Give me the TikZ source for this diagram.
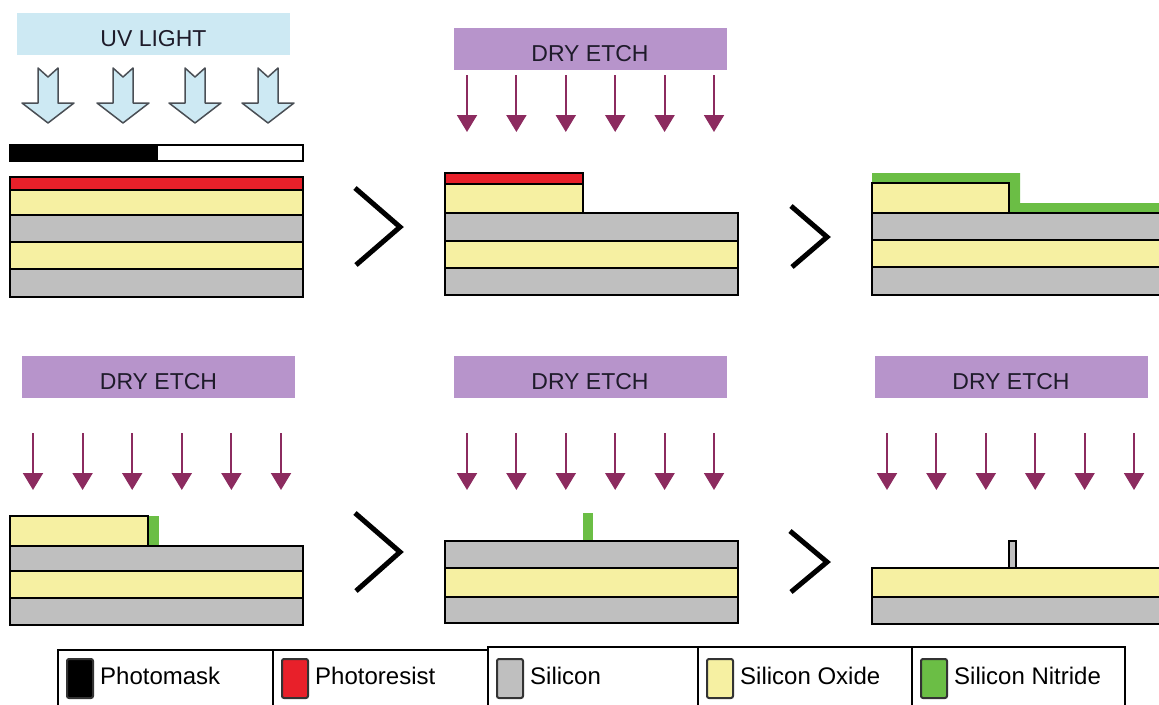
\documentclass[tikz,border=0pt]{standalone}
\usepackage{fontspec}
\setmainfont{Liberation Sans}
\usetikzlibrary{arrows.meta}

\definecolor{uvblue}{HTML}{CDE9F3}
\definecolor{uvedge}{HTML}{4A4F55}
\definecolor{etchpurple}{HTML}{B794CB}
\definecolor{etcharrow}{HTML}{8C2B5F}
\definecolor{textdark}{HTML}{1E1B2A}
\definecolor{resist}{HTML}{E8202A}
\definecolor{oxide}{HTML}{F6F0A2}
\definecolor{silicon}{HTML}{BFBFBF}
\definecolor{nitride}{HTML}{6BBE45}
\definecolor{swatchedge}{HTML}{333333}

\begin{document}
\begin{tikzpicture}[
    x=1pt, y=-1pt,
    font=\fontsize{23}{27}\selectfont,
    bar/.style={
        fill=etchpurple,
        text=textdark,
        minimum width=273pt,
        minimum height=42pt,
        inner sep=0pt,
        text height=24pt,
        text depth=0pt
    },
    uvbar/.style={bar, fill=uvblue},
    layer/.style={draw=black, line width=2pt},
    si/.style={layer, fill=silicon},
    ox/.style={layer, fill=oxide},
    pr/.style={layer, fill=resist},
    etch/.style={
        draw=etcharrow,
        line width=2pt,
        -{Triangle[width=20pt,length=17pt]}
    },
    uvarrow/.style={draw=uvedge, fill=uvblue, line width=1.5pt, line join=round},
    chevron/.style={draw=black, line width=5pt},
    legendbox/.style={draw=black, line width=1.5pt},
    swatch/.style={draw=swatchedge, line width=2pt, rounded corners=2pt},
    keytext/.style={font=\fontsize{24}{28}\selectfont, text=black, inner sep=0pt, anchor=base west}
]
\useasboundingbox (0,0) rectangle (1159,704);

% Step 1: exposure
\node[uvbar] (uv) at (153.5,34) {UV LIGHT};
\foreach \x in {48,123,195,268}
    \draw[uvarrow] (\x-10,68) -- (\x,77) -- (\x+10,68) -- (\x+10,103) -- (\x+26,103)
        -- (\x,123) -- (\x-26,103) -- (\x-10,103) -- cycle;
\draw[layer, fill=white] (10,145) rectangle (303,161);
\fill[black] (10,145) rectangle (158,161);
\draw[layer] (10,145) rectangle (303,161);
\draw[pr] (10,177) rectangle (303,190);
\draw[ox] (10,190) rectangle (303,215);
\draw[si] (10,215) rectangle (303,242);
\draw[ox] (10,242) rectangle (303,269);
\draw[si] (10,269) rectangle (303,297);

% Step 2: first dry etch
\node[bar] (etchA) at (590,49) {DRY ETCH};
\foreach \i in {0,...,5}
    \draw[etch] (467+\i*49.4,75) -- (467+\i*49.4,132);
\draw[pr] (445,173) rectangle (583,184);
\draw[ox] (445,184) rectangle (583,213);
\draw[si] (445,213) rectangle (738,241);
\draw[ox] (445,241) rectangle (738,268);
\draw[si] (445,268) rectangle (738,295);

% Step 3: nitride coating
\fill[nitride] (872,173) -- (1020,173) -- (1020,203) -- (1170,203) -- (1170,214) -- (872,214) -- cycle;
\draw[ox] (872,183) rectangle (1009,213);
\draw[si] (872,213) rectangle (1170,240);
\draw[ox] (872,240) rectangle (1170,267);
\draw[si] (872,267) rectangle (1170,295);

% Step 4
\node[bar] (etchB) at (158.5,377) {DRY ETCH};
\foreach \i in {0,...,5}
    \draw[etch] (33+\i*49.6,433) -- (33+\i*49.6,490);
\fill[nitride] (148,516) rectangle (159,546);
\draw[ox] (10,516) rectangle (148,546);
\draw[si] (10,546) rectangle (303,571);
\draw[ox] (10,571) rectangle (303,598);
\draw[si] (10,598) rectangle (303,625);

% Step 5
\node[bar] (etchC) at (590,377) {DRY ETCH};
\foreach \i in {0,...,5}
    \draw[etch] (467+\i*49.4,433) -- (467+\i*49.4,490);
\fill[nitride] (583,513) rectangle (593,541);
\draw[si] (445,541) rectangle (738,568);
\draw[ox] (445,568) rectangle (738,597);
\draw[si] (445,597) rectangle (738,623);

% Step 6
\node[bar] (etchD) at (1011,377) {DRY ETCH};
\foreach \i in {0,...,5}
    \draw[etch] (887+\i*49.4,433) -- (887+\i*49.4,490);
\draw[si, line width=1.5pt] (1009,541) rectangle (1016,568);
\draw[ox] (872,568) rectangle (1170,597);
\draw[si] (872,597) rectangle (1170,624);

% Chevrons between steps
\draw[chevron] (355,188) -- (400,227) -- (356,265);
\draw[chevron] (791,206) -- (827,237) -- (792,267);
\draw[chevron] (355,513) -- (400,552) -- (356,591);
\draw[chevron] (790,531) -- (827,562) -- (791,592);

% Legend
\foreach \xa/\xb/\ya in {58/273/650, 273/488/650, 488/698/647, 698/912/647, 912/1125/647}
    \draw[legendbox] (\xa,\ya) rectangle (\xb,712);
\foreach \x/\col/\txt [count=\i] in {58/black/Photomask, 273/resist/Photoresist,
        488/silicon/Silicon, 698/oxide/Silicon Oxide, 912/nitride/Silicon Nitride} {
    \draw[swatch, fill=\col] (\x+9,659) rectangle (\x+35,698);
    \node[keytext] (key\i) at (\x+42,684) {\txt};
}

\end{tikzpicture}
\end{document}
